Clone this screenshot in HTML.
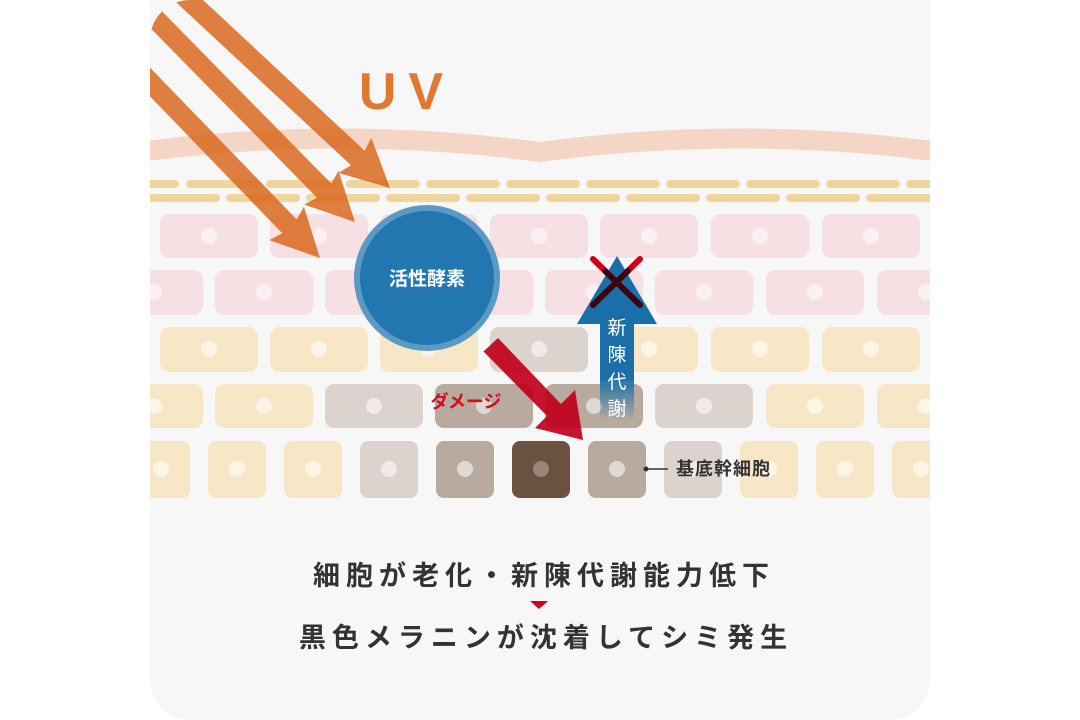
<!DOCTYPE html>
<html><head><meta charset="utf-8"><style>
html,body{margin:0;padding:0;background:#fff;}
svg{display:block;}
text{font-family:"Liberation Sans","Noto Sans CJK JP",sans-serif;}
</style></head><body>
<svg width="1080" height="720" viewBox="0 0 1080 720" xmlns="http://www.w3.org/2000/svg">
<defs>
<clipPath id="panel"><rect x="150" y="0" width="780" height="720" rx="40"/></clipPath>
<linearGradient id="fade" x1="0" y1="0" x2="0" y2="1">
<stop offset="0" stop-color="#1a6fa8"/><stop offset="0.75" stop-color="#1a6fa8"/><stop offset="1" stop-color="#1a6fa8" stop-opacity="0"/>
</linearGradient>
<polygon id="uvarr" points="-400,-10 -44,-10 -48,-24 0,0 -48,24 -44,10 -400,10"/>
</defs>
<rect x="150" y="-40" width="780" height="760" rx="40" fill="#f7f7f7"/>
<g clip-path="url(#panel)">
<path d="M140,152 Q340,125 540,152 Q740,125 940,152" stroke="#f5d6c6" stroke-width="20" fill="none"/>
<g stroke="#f0d69c" stroke-width="8" stroke-linecap="round">
<line x1="140" y1="184" x2="175" y2="184"/><line x1="190" y1="184" x2="256" y2="184"/><line x1="270" y1="184" x2="336" y2="184"/><line x1="350" y1="184" x2="416" y2="184"/><line x1="430" y1="184" x2="496" y2="184"/><line x1="510" y1="184" x2="576" y2="184"/><line x1="590" y1="184" x2="656" y2="184"/><line x1="670" y1="184" x2="736" y2="184"/><line x1="750" y1="184" x2="816" y2="184"/><line x1="830" y1="184" x2="896" y2="184"/><line x1="910" y1="184" x2="976" y2="184"/>
<line x1="150" y1="198" x2="216" y2="198"/><line x1="230" y1="198" x2="296" y2="198"/><line x1="310" y1="198" x2="376" y2="198"/><line x1="390" y1="198" x2="456" y2="198"/><line x1="470" y1="198" x2="536" y2="198"/><line x1="550" y1="198" x2="616" y2="198"/><line x1="630" y1="198" x2="696" y2="198"/><line x1="710" y1="198" x2="776" y2="198"/><line x1="790" y1="198" x2="856" y2="198"/><line x1="870" y1="198" x2="936" y2="198"/>
</g>
<g fill="#f7e0e4">
<rect x="160" y="214" width="98" height="44" rx="9"/><rect x="270" y="214" width="98" height="44" rx="9"/><rect x="380" y="214" width="98" height="44" rx="9"/><rect x="490" y="214" width="98" height="44" rx="9"/><rect x="600" y="214" width="98" height="44" rx="9"/><rect x="711" y="214" width="98" height="44" rx="9"/><rect x="822" y="214" width="98" height="44" rx="9"/>
<rect x="105" y="270" width="98" height="45" rx="9"/><rect x="215" y="270" width="98" height="45" rx="9"/><rect x="325" y="270" width="98" height="45" rx="9"/><rect x="435" y="270" width="98" height="45" rx="9"/><rect x="545" y="270" width="98" height="45" rx="9"/><rect x="655" y="270" width="98" height="45" rx="9"/><rect x="766" y="270" width="98" height="45" rx="9"/><rect x="877" y="270" width="98" height="45" rx="9"/>
</g>
<g fill="#f8e7c6">
<rect x="160" y="327" width="98" height="45" rx="9"/><rect x="270" y="327" width="98" height="45" rx="9"/><rect x="380" y="327" width="98" height="45" rx="9"/><rect x="600" y="327" width="98" height="45" rx="9"/><rect x="711" y="327" width="98" height="45" rx="9"/><rect x="822" y="327" width="98" height="45" rx="9"/>
<rect x="105" y="384" width="98" height="44" rx="9"/><rect x="215" y="384" width="98" height="44" rx="9"/><rect x="766" y="384" width="98" height="44" rx="9"/><rect x="877" y="384" width="98" height="44" rx="9"/>
<rect x="132" y="441" width="58" height="57" rx="8"/><rect x="208" y="441" width="58" height="57" rx="8"/><rect x="284" y="441" width="58" height="57" rx="8"/><rect x="740" y="441" width="58" height="57" rx="8"/><rect x="816" y="441" width="58" height="57" rx="8"/><rect x="892" y="441" width="58" height="57" rx="8"/>
</g>
<g fill="#ddd3ce">
<rect x="490" y="327" width="98" height="45" rx="9"/>
<rect x="325" y="384" width="98" height="44" rx="9"/><rect x="655" y="384" width="98" height="44" rx="9"/>
<rect x="360" y="441" width="58" height="57" rx="8"/><rect x="664" y="441" width="58" height="57" rx="8"/>
</g>
<g fill="#b8aa9e">
<rect x="435" y="384" width="98" height="44" rx="9"/><rect x="545" y="384" width="98" height="44" rx="9"/>
<rect x="436" y="441" width="58" height="57" rx="8"/><rect x="588" y="441" width="58" height="57" rx="8"/>
</g>
<rect x="512" y="441" width="58" height="57" rx="8" fill="#6b5240"/>
<g fill="#ffffff" fill-opacity="0.55">
<circle cx="209" cy="236" r="8"/><circle cx="319" cy="236" r="8"/><circle cx="429" cy="236" r="8"/><circle cx="539" cy="236" r="8"/><circle cx="649" cy="236" r="8"/><circle cx="760" cy="236" r="8"/><circle cx="871" cy="236" r="8"/>
<circle cx="154" cy="292" r="8"/><circle cx="264" cy="292" r="8"/><circle cx="374" cy="292" r="8"/><circle cx="484" cy="292" r="8"/><circle cx="594" cy="292" r="8"/><circle cx="704" cy="292" r="8"/><circle cx="815" cy="292" r="8"/><circle cx="926" cy="292" r="8"/>
<circle cx="209" cy="349" r="8"/><circle cx="319" cy="349" r="8"/><circle cx="429" cy="349" r="8"/><circle cx="539" cy="349" r="8"/><circle cx="649" cy="349" r="8"/><circle cx="760" cy="349" r="8"/><circle cx="871" cy="349" r="8"/>
<circle cx="154" cy="406" r="8"/><circle cx="264" cy="406" r="8"/><circle cx="374" cy="406" r="8"/><circle cx="484" cy="406" r="8"/><circle cx="594" cy="406" r="8"/><circle cx="704" cy="406" r="8"/><circle cx="815" cy="406" r="8"/><circle cx="926" cy="406" r="8"/>
<circle cx="161" cy="469" r="8"/><circle cx="237" cy="469" r="8"/><circle cx="313" cy="469" r="8"/><circle cx="389" cy="469" r="8"/><circle cx="465" cy="469" r="8"/><circle cx="541" cy="469" r="8" fill-opacity="0.3"/><circle cx="617" cy="469" r="8"/><circle cx="693" cy="469" r="8"/><circle cx="769" cy="469" r="8"/><circle cx="845" cy="469" r="8"/><circle cx="921" cy="469" r="8"/>
</g>
<g fill="#d9691f" fill-opacity="0.85">
<use href="#uvarr" transform="translate(390,188) rotate(43)"/>
<use href="#uvarr" transform="translate(355,222) rotate(45.5)"/>
<use href="#uvarr" transform="translate(320,258) rotate(46)"/>
</g>
</g>
<text x="407" y="109" font-size="52" fill="#e07a30" text-anchor="middle" letter-spacing="12" font-weight="bold">UV</text>
<circle cx="427" cy="278" r="70" fill="#2277b0" stroke="#5a9ac4" stroke-width="6"/>
<text x="427" y="285" font-size="19" fill="#fff" font-weight="bold" text-anchor="middle">活性酵素</text>
<polygon points="617,256 657,324 634,324 634,420 600,420 600,324 577,324" fill="url(#fade)"/>
<g font-size="19" fill="#fff" text-anchor="middle">
<text x="617" y="334">新</text><text x="617" y="361">陳</text><text x="617" y="388">代</text><text x="617" y="415">謝</text>
</g>
<g stroke-width="6" stroke-linecap="round">
<line x1="593" y1="259" x2="640" y2="305" stroke="#d0001a"/>
<line x1="640" y1="259" x2="593" y2="305" stroke="#d0001a"/>
</g>
<g stroke-width="6" stroke-linecap="round" stroke="#2a0610" opacity="0.9">
<line x1="605" y1="271" x2="640" y2="305"/>
<line x1="628" y1="271" x2="593" y2="305"/>
</g>
<polygon points="483,352 498,338 561,404 575,390 583,440 535,428 547,416 484,352" fill="#c0001c" fill-opacity="0.92"/>
<text x="466" y="408" font-size="18" fill="#d0101e" font-weight="bold" text-anchor="middle">ダメージ</text>
<circle cx="646" cy="469" r="2.5" fill="#333"/>
<line x1="646" y1="469" x2="668" y2="469" stroke="#333" stroke-width="1.5"/>
<text x="676" y="475" font-size="18" fill="#333" font-weight="bold" letter-spacing="1">基底幹細胞</text>
<text x="544" y="585" font-size="27" fill="#333" font-weight="bold" text-anchor="middle" letter-spacing="6">細胞が老化・新陳代謝能力低下</text>
<polygon points="530,601 548,601 539,609" fill="#d0001a"/>
<text x="546" y="647" font-size="27" fill="#333" font-weight="bold" text-anchor="middle" letter-spacing="6">黒色メラニンが沈着してシミ発生</text>
</svg>
</body></html>
